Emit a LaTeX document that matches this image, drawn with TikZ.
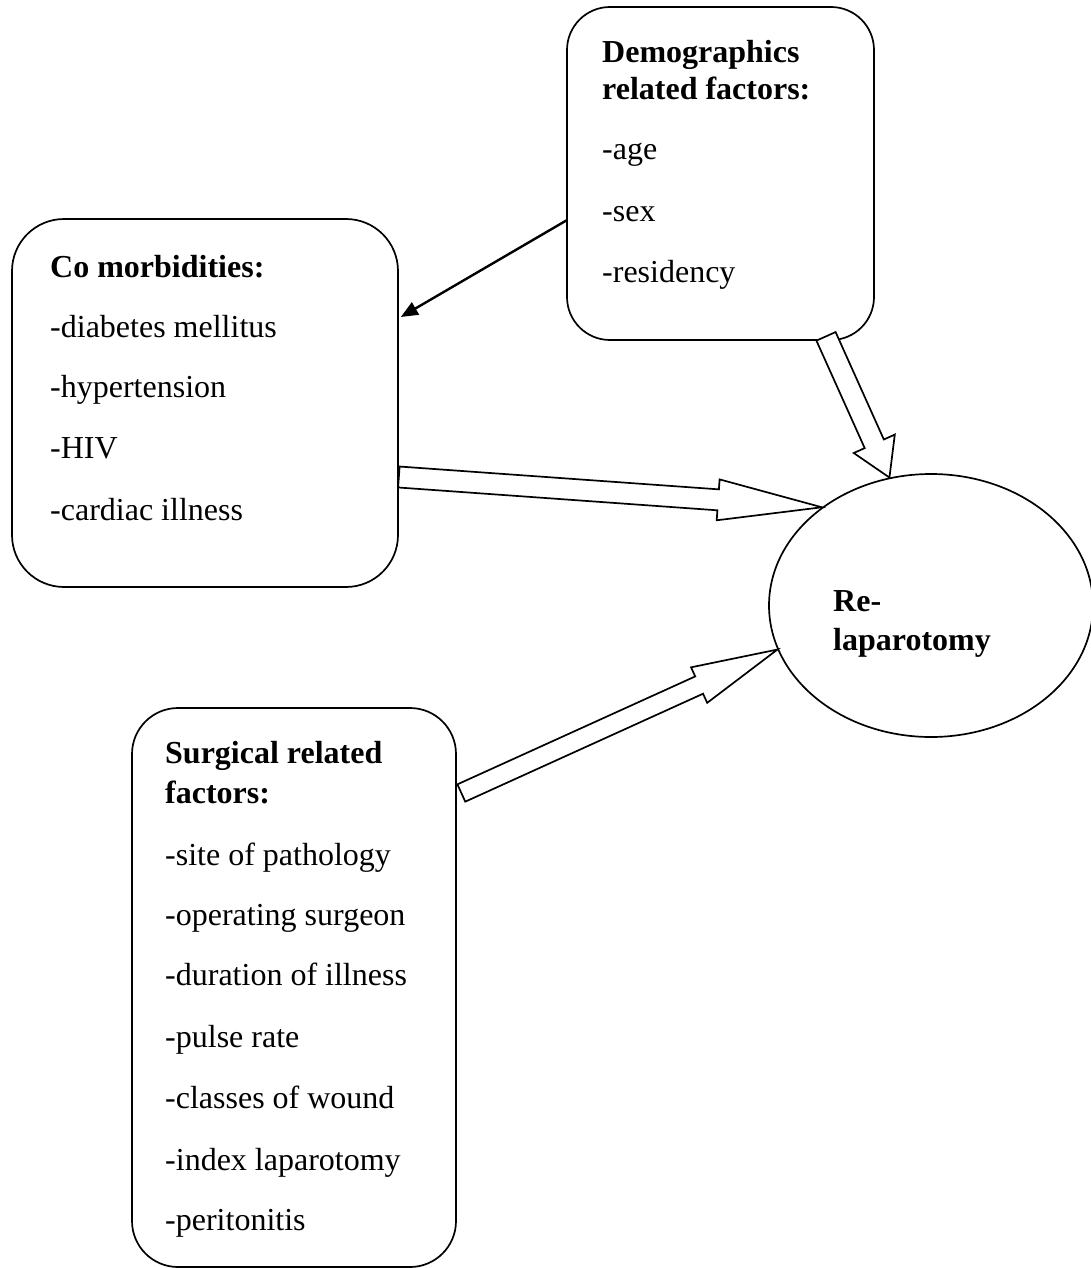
\documentclass[tikz,border=0pt]{standalone}
\usepackage{fontspec}
\setmainfont{Liberation Serif}
\usetikzlibrary{shapes.geometric,calc,arrows.meta}
\newcommand{\blockarrow}[5]{%
  \coordinate (ba-b) at ($(#2)!#5!(#1)$);
  \draw[blockline] ($(#1)!#3!90:(#2)$) -- ($(ba-b)!#3!-90:(#1)$) -- ($(ba-b)!#4!-90:(#1)$) -- (#2)
    -- ($(ba-b)!#4!90:(#1)$) -- ($(ba-b)!#3!90:(#1)$) -- ($(#1)!#3!-90:(#2)$) -- cycle;
}
\begin{document}
\begin{tikzpicture}[x=1pt,y=-1pt,
  font=\fontsize{32}{38}\selectfont,
  box/.style={draw, line width=1.7pt, inner sep=0pt, rectangle},
  head/.style={font=\fontsize{32}{38}\selectfont\bfseries, anchor=base west, inner sep=0pt},
  item/.style={anchor=base west, inner sep=0pt},
  blockline/.style={draw, line width=1.7pt, fill=white, line join=miter},
  thin/.style={line width=2.4pt, -{Triangle[length=17pt,width=14pt]}}]
\fill[white] (0,0) rectangle (1091,1268);
\useasboundingbox (0,0) rectangle (1091,1268);

% boxes
\node[box, rounded corners=43pt, minimum width=307pt, minimum height=333pt] (demo) at (720.5,173.5) {};
\node[box, rounded corners=52pt, minimum width=386pt, minimum height=368pt] (como) at (205,403) {};
\node[box, rounded corners=46pt, minimum width=324pt, minimum height=559pt] (surg) at (294,987.5) {};
\node[draw, line width=1.7pt, ellipse, inner sep=0pt, minimum width=324pt, minimum height=263pt] (rl) at (931,605.5) {};

% texts: demographics
\node[head] (d1) at (602,63) {Demographics};
\node[head] (d2) at (602,100) {related factors:};
\node[item] (d3) at (602,160) {-age};
\node[item] (d4) at (602,222) {-sex};
\node[item] (d5) at (602,282) {-residency};

% co morbidities
\node[head] (c1) at (50,277) {Co morbidities:};
\node[item] (c2) at (50,337) {-diabetes mellitus};
\node[item] (c3) at (50,397) {-hypertension};
\node[item] (c4) at (50,458) {-HIV};
\node[item] (c5) at (50,520) {-cardiac illness};

% surgical
\node[head] (s1) at (165,763) {Surgical related};
\node[head] (s2) at (165,803) {factors:};
\node[item] (s3) at (165,865) {-site of pathology};
\node[item] (s4) at (165,925) {-operating surgeon};
\node[item] (s5) at (165,985) {-duration of illness};
\node[item] (s6) at (165,1047) {-pulse rate};
\node[item] (s7) at (165,1108) {-classes of wound};
\node[item] (s8) at (165,1170) {-index laparotomy};
\node[item] (s9) at (165,1230) {-peritonitis};

% ellipse text
\node[head] (r1) at (833,611) {Re-};
\node[head] (r2) at (833,650) {laparotomy};

% connectors
\coordinate (st1) at ($(como.east)+(0,74)$);
\coordinate (st2) at ($(demo.south)+(105.5,-4.5)$);
\coordinate (st3) at ($(surg.east)+(4.5,-194.5)$);
\coordinate (tp1) at (rl.138.5);
\coordinate (tp2) at (rl.108.1);
\coordinate (tp3) at (rl.196.3);
\blockarrow{st1}{tp1}{10.5pt}{20.5pt}{104pt}
\blockarrow{st2}{tp2}{10.5pt}{22.5pt}{37pt}
\blockarrow{st3}{tp3}{9.5pt}{19.5pt}{86pt}

\coordinate (th1) at ($(demo.west)+(1,46.5)$);
\coordinate (th2) at ($(como.east)+(2,-86)$);
\draw[thin] (th1) -- (th2);
\end{tikzpicture}
\end{document}
